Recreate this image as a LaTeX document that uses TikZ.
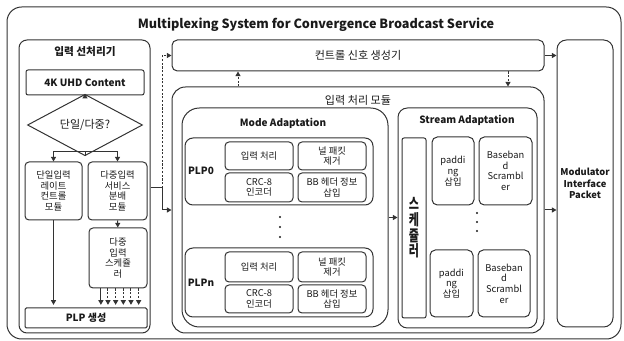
\documentclass[tikz,border=0pt]{standalone}
\usepackage{fontspec}
\usepackage{graphicx}
\setmainfont{Noto Sans CJK KR}
\usetikzlibrary{arrows.meta,calc,shapes.geometric}
\definecolor{ln}{HTML}{333333}
\definecolor{tx}{HTML}{1A1A1A}
\newcommand\narrowch[1]{\scalebox{0.72}[1]{#1}}
\begin{document}
\begin{tikzpicture}[x=0.75pt,y=-0.75pt,
  every node/.style={text=tx, font=\fontsize{7}{8}\selectfont, align=center, inner sep=1pt},
  wh/.style 2 args={minimum width=#1*0.75pt, minimum height=#2*0.75pt},
  box/.style={draw=ln, line width=0.75pt, rounded corners=3pt},
  bold/.style={font=\bfseries\fontsize{7.5}{9}\selectfont},
  big/.style={font=\fontsize{8.3}{10}\selectfont},
  dot/.style={circle, fill=tx, inner sep=0pt, minimum size=1.8pt},
  arr/.style={draw=ln, line width=0.75pt, -{Triangle[length=3.5pt,width=3.8pt]}},
  dsh/.style={dash pattern=on 1.6pt off 1.2pt}]
\useasboundingbox (0,0) rectangle (624,341);

% frame and title
\node[box, rounded corners=11pt, wh={614}{332}] (outer) at (314,173) {};
\node[font=\bfseries\fontsize{9.5}{11}\selectfont] (title) at (316,25)
  {Multiplexing System for Convergence Broadcast Service};

% input pre-processor
\node[box, rounded corners=6pt, wh={131}{293}] (pre) at (84.5,186.5) {};
\node[bold, font=\bfseries\fontsize{8}{9}\selectfont] (preT) at (85,52) {입력 선처리기};
\node[box, rounded corners=1.5pt, wh={118}{25}, bold] (uhd) at (85,82.5) {4K UHD Content};
\node[draw=ln, line width=0.75pt, diamond, wh={115}{36}, inner sep=0pt, big] (dia) at (85,125) {단일/다중?};
\node[box, wh={57}{58}] (single) at (53.5,191) {단일입력\\레이트\\컨트롤\\모듈};
\node[box, wh={59}{58}] (multi) at (117.5,191) {다중입력\\서비스\\분배\\모듈};
\node[box, wh={58}{60}] (sched) at (118,258) {다중\\입력\\스케쥴\\러};
\node[box, rounded corners=1pt, wh={122}{20}, bold] (plpgen) at (86,318) {PLP 생성};

% control signal generator and modulator interface
\node[box, rounded corners=4pt, wh={372}{31}, big] (ctrl) at (358,55.5) {컨트롤 신호 생성기};
\node[box, rounded corners=7pt, wh={56}{287}, font=\bfseries\fontsize{7}{8.6}\selectfont] (mod) at (585,183.5) {Modulator\\Interface\\Packet};

% input processing module
\node[box, rounded corners=10pt, wh={372}{246}] (ipm) at (358,210) {};
\node[big] (ipmT) at (358,100) {입력 처리 모듈};

% mode adaptation
\node[box, rounded corners=13pt, wh={206}{219}] (mode) at (285,217.5) {};
\node[bold] (modeT) at (283,123) {Mode Adaptation};

\node[box, rounded corners=6pt, wh={188}{67}] (plp0) at (279,171.5) {};
\node[bold] (plp0T) at (201,171) {PLP0};
\node[box, wh={68}{28}] (p0a) at (259,156) {입력 처리};
\node[box, wh={68}{28}] (p0b) at (332,156) {널 패킷\\제거};
\node[box, wh={68}{29}] (p0c) at (259,187.5) {CRC-8\\인코더};
\node[box, wh={68}{29}] (p0d) at (332,187.5) {BB 헤더 정보\\삽입};

\node[dot] (md1) at (280,217) {};
\node[dot] (md2) at (280,227) {};
\node[dot] (md3) at (280,237) {};

\node[box, rounded corners=6pt, wh={188}{69}] (plpn) at (279,282.5) {};
\node[bold] (plpnT) at (201,283) {PLPn};
\node[box, wh={68}{30}] (pna) at (259,267) {입력 처리};
\node[box, wh={68}{30}] (pnb) at (332,267) {널 패킷\\제거};
\node[box, wh={68}{28}] (pnc) at (259,299) {CRC-8\\인코더};
\node[box, wh={68}{28}] (pnd) at (332,299) {BB 헤더 정보\\삽입};

% stream adaptation
\node[box, rounded corners=7pt, wh={139}{220}] (stream) at (467.5,218) {};
\node[bold] (streamT) at (467,120) {Stream Adaptation};
\node[box, rounded corners=1.5pt, wh={24}{180}] (schd) at (414,228) {};
\node[font=\bfseries\fontsize{11.5}{11.8}\selectfont] (schdT) at (414,228)
  {\narrowch{스}\\\narrowch{케}\\\narrowch{쥴}\\\narrowch{러}};
\node[box, rounded corners=4pt, wh={42}{68}] (pad1) at (453,171) {paddi\\ng\\삽입};
\node[box, rounded corners=4pt, wh={53}{68}] (bb1) at (505.5,171) {Baseban\\d\\Scrambl\\er};
\node[dot] (sd1) at (477,213) {};
\node[dot] (sd2) at (477,222) {};
\node[dot] (sd3) at (477,231) {};
\node[box, rounded corners=4pt, wh={43}{67}] (pad2) at (451.5,283.5) {paddi\\ng\\삽입};
\node[box, rounded corners=4pt, wh={52}{67}] (bb2) at (504,283.5) {Baseban\\d\\Scrambl\\er};

% connectors inside the pre-processor
\coordinate (split) at (85,152);
\draw[arr] (uhd) -- (dia);
\draw[ln, line width=0.75pt] (dia.south) -- (split);
\draw[arr] (split) -| (single.north);
\draw[arr] (split) -| (multi.north);
\draw[arr] (multi) -- (sched);
\draw[arr, shorten >=2pt] (single.south) -- (single.south |- plpgen.north);
\foreach \f/\st in {0.21/solid,0.33/dsh,0.46/dsh,0.59/dsh,0.72/dsh,0.85/dsh}
  \draw[arr, \st, shorten >=2pt] ($(sched.south west)!\f!(sched.south east)$) coordinate (t)
    -- (t |- plpgen.north);

% links between blocks
\coordinate (j1) at (162,188);
\draw[arr] (j1 -| pre.east) -- (j1) |- (ipm.west);
\draw[arr, dsh] (j1) |- (ctrl.west);
\draw[arr] (ctrl.east) -- (ctrl.east -| mod.west);
\coordinate (up) at (238,0);
\draw[arr, dsh] (up |- ipm.north) -- (up |- ctrl.south);
\coordinate (down) at (508,0);
\draw[arr, dsh] (down |- ctrl.south) -- (down |- ipm.north);
\draw[arr] (mode.east) -- (mode.east -| stream.west);
\draw[arr] (ipm.east) -- (ipm.east -| mod.west);
\end{tikzpicture}
\end{document}
